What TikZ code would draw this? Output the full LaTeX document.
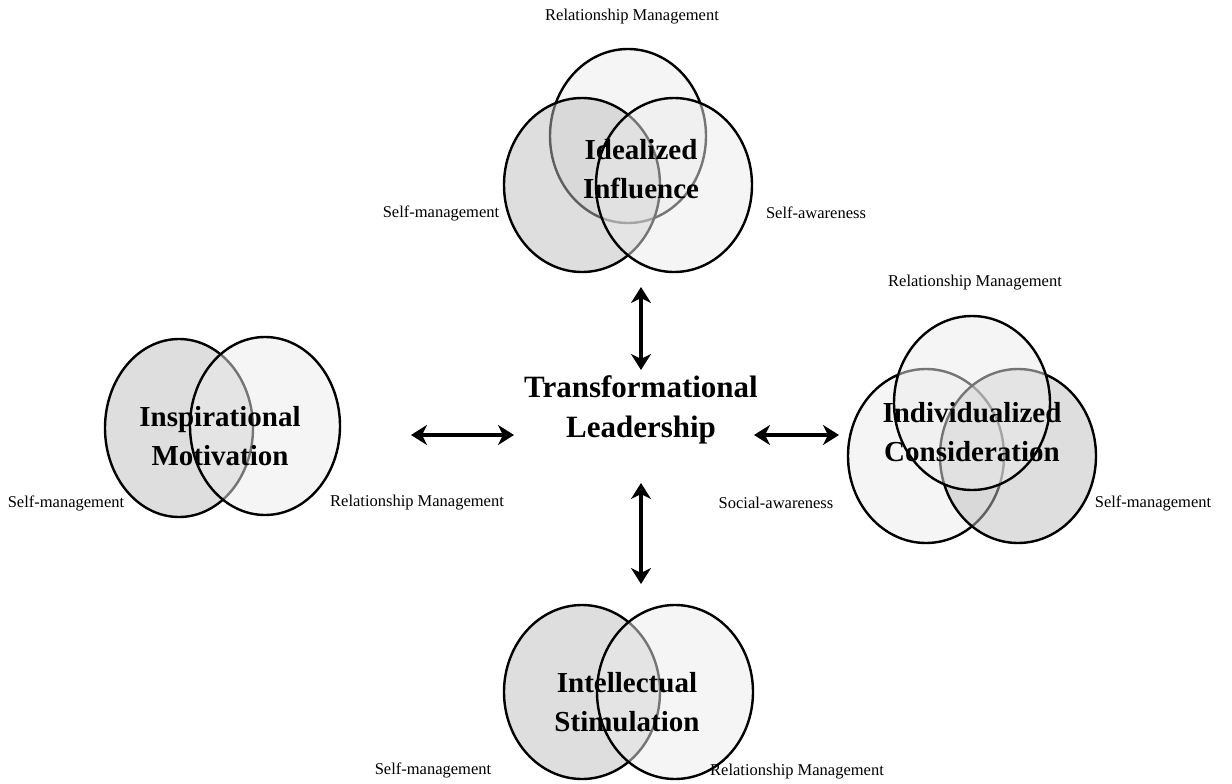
\documentclass[tikz,border=0pt]{standalone}
\usepackage{fontspec}
\setmainfont{Liberation Serif}
\usetikzlibrary{shapes.geometric,arrows.meta}
\tikzset{
  venn/.style={ellipse, draw=black, line width=2.4pt, fill opacity=0.5, inner sep=0pt,
    minimum width=156pt, minimum height=174pt},
  dark/.style={venn, fill=black!26},
  light/.style={venn, fill=black!8},
  big/.style={font=\fontsize{29}{39}\selectfont\bfseries, align=center, inner sep=0pt},
  ttl/.style={font=\fontsize{31}{40}\selectfont\bfseries, align=center, inner sep=0pt},
  small/.style={font=\fontsize{16.5}{18}\selectfont, inner sep=0pt},
  dbl/.style={line width=3.8pt,
    {Stealth[length=16pt,width=20pt,inset=5pt]}-{Stealth[length=16pt,width=20pt,inset=5pt]}}
}
\begin{document}
\begin{tikzpicture}[x=1pt,y=-1pt]
\useasboundingbox (0,0) rectangle (1232,784);
% ---- top: Idealized Influence
\node[light] (iiR) at (628,136) {};
\node[dark]  (iiS) at (582,185) {};
\node[light] (iiA) at (674,185) {};
\node[big] (ii) at (641,169) {Idealized\\Influence};
\node[small] (iiRl) at (632,17) {Relationship Management};
\node[small] (iiSl) at (441,213) {Self-management};
\node[small] (iiAl) at (816,213) {Self-awareness};
% ---- left: Inspirational Motivation
\node[dark, minimum width=148pt, minimum height=178pt]  (imS) at (179,428) {};
\node[light, minimum width=150pt, minimum height=178pt] (imR) at (265,426) {};
\node[big] (im) at (220,436) {Inspirational\\Motivation};
\node[small] (imSl) at (66,503) {Self-management};
\node[small] (imRl) at (417,503) {Relationship Management};
% ---- centre
\node[ttl] (tl) at (641,410) {Transformational\\Leadership};
% ---- right: Individualized Consideration
\node[light] (icS) at (926,456) {};
\node[dark]  (icM) at (1018,456) {};
\node[light] (icR) at (972,403) {};
\node[big] (ic) at (972,432) {Individualized\\Consideration};
\node[small] (icRl) at (975,283) {Relationship Management};
\node[small] (icSl) at (776,503) {Social-awareness};
\node[small] (icMl) at (1153,503) {Self-management};
% ---- bottom: Intellectual Stimulation
\node[dark]  (isS) at (582,692) {};
\node[light] (isR) at (675,692) {};
\node[big] (is) at (627,702) {Intellectual\\Stimulation};
\node[small] (isSl) at (433,770) {Self-management};
\node[small] (isRl) at (797,772) {Relationship Management};
% ---- arrows
\coordinate (aT1) at (641,287);
\coordinate (aT2) at (641,370);
\coordinate (aB1) at (641,483);
\coordinate (aB2) at (641,584);
\coordinate (aL1) at (411,435);
\coordinate (aL2) at (514,435);
\coordinate (aR1) at (754,435);
\coordinate (aR2) at (839,435);
\draw[dbl] (aT1) -- (aT2);
\draw[dbl] (aB1) -- (aB2);
\draw[dbl] (aL1) -- (aL2);
\draw[dbl] (aR1) -- (aR2);
\end{tikzpicture}
\end{document}
